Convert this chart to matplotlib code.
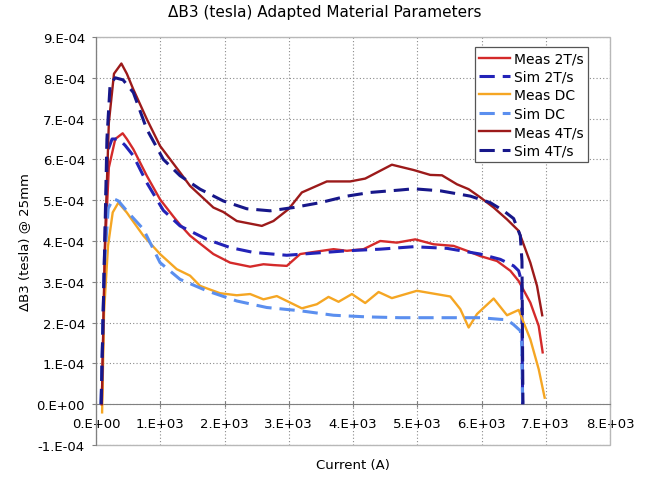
import numpy as np
import matplotlib
matplotlib.use("Agg")
import matplotlib.pyplot as plt
from matplotlib.ticker import FuncFormatter
from matplotlib.patches import Rectangle

# ---- data (x in A, y in 1e-4 tesla) ----
meas2_x = [90, 140, 200, 300, 415, 480, 581, 790, 997, 1204, 1308, 1464, 1827, 2087, 2399, 2606, 2762,
           2970, 3178, 3385, 3697, 3905, 4164, 4424, 4683, 4969, 5254, 5566, 5774, 5981, 6241, 6449,
           6578, 6760, 6890, 6952]
meas2_y = [0, 3.8, 5.8, 6.5, 6.64, 6.5, 6.25, 5.6, 5.02, 4.6, 4.4, 4.13, 3.68, 3.47, 3.37, 3.43, 3.41,
           3.39, 3.68, 3.73, 3.8, 3.76, 3.8, 4.0, 3.96, 4.04, 3.92, 3.88, 3.76, 3.63, 3.51, 3.27,
           3.02, 2.49, 1.92, 1.27]

sim2_x = [80, 130, 180, 250, 350, 450, 581, 790, 1048, 1308, 1724, 2087, 2450, 2970, 3385, 3905, 4424,
          4943, 5462, 5981, 6293, 6500, 6578, 6625, 6640]
sim2_y = [0, 3.5, 6.2, 6.5, 6.5, 6.35, 6.09, 5.43, 4.75, 4.37, 4.04, 3.84, 3.72, 3.65, 3.7, 3.76, 3.8,
          3.86, 3.82, 3.68, 3.55, 3.39, 3.27, 3.0, 0]

measdc_x = [95, 125, 187, 260, 348, 478, 737, 997, 1256, 1464, 1620, 1931, 2191, 2399, 2606, 2814, 2970,
            3204, 3437, 3619, 3775, 3983, 4190, 4398, 4605, 4995, 5514, 5670, 5800, 5930, 6189, 6397,
            6578, 6760, 6890, 6983]
measdc_y = [-0.2, 2.25, 3.88, 4.7, 4.94, 4.7, 4.13, 3.68, 3.31, 3.15, 2.9, 2.72, 2.67, 2.7, 2.57, 2.65, 2.53,
            2.35, 2.45, 2.63, 2.51, 2.7, 2.48, 2.75, 2.6, 2.78, 2.64, 2.33, 1.88, 2.21, 2.59, 2.18,
            2.31, 1.59, 0.86, 0.16]

simdc_x = [80, 130, 190, 270, 350, 500, 737, 997, 1308, 1724, 2191, 2658, 3178, 3697, 4216, 4735, 5981,
           6293, 6397, 6500, 6604, 6625, 6640]
simdc_y = [0, 3.4, 4.8, 5.04, 4.98, 4.7, 4.29, 3.47, 3.06, 2.78, 2.53, 2.37, 2.29, 2.18, 2.14, 2.12, 2.12,
           2.08, 2.07, 1.95, 1.8, 1.5, 0]

meas4_x = [90, 140, 200, 280, 395, 480, 580, 790, 997, 1308, 1464, 1827, 1983, 2191, 2581, 2762, 2996,
           3204, 3593, 3956, 4190, 4605, 4735, 4943, 5202, 5385, 5618, 5800, 5981, 6189, 6397, 6578,
           6760, 6864, 6945]
meas4_y = [0, 4.0, 6.9, 8.1, 8.35, 8.1, 7.72, 6.99, 6.33, 5.68, 5.35, 4.82, 4.71, 4.49, 4.37, 4.49, 4.78,
           5.19, 5.46, 5.46, 5.53, 5.87, 5.82, 5.74, 5.62, 5.61, 5.39, 5.27, 5.07, 4.82, 4.53, 4.25,
           3.47, 2.9, 2.18]

sim4_x = [80, 130, 170, 220, 300, 420, 581, 790, 1048, 1308, 1620, 1983, 2347, 2710, 3073, 3489, 3905,
          4268, 4735, 4943, 5358, 5826, 6137, 6344, 6500, 6604, 6630, 6645]
sim4_y = [0, 3.5, 6.5, 7.85, 8.0, 7.95, 7.64, 6.74, 6.0, 5.6, 5.27, 4.98, 4.79, 4.74, 4.82, 4.94, 5.1,
          5.19, 5.25, 5.28, 5.23, 5.1, 4.94, 4.74, 4.55, 4.13, 3.5, 0]

labels = ["Meas 2T/s", "Sim 2T/s", "Meas DC", "Sim DC", "Meas 4T/s", "Sim 4T/s"]
colors = ["#D42A2A", "#2323B8", "#F5A623", "#5B8FEF", "#9C1A1A", "#17178A"]

x_ticks = np.arange(0, 8001, 1000)
y_ticks = np.arange(-1e-4, 9.01e-4, 1e-4)


def sci_fmt(v, pos=None):
    if abs(v) < 1e-12:
        return "0.E+00"
    e = int(np.floor(np.log10(abs(v)) + 1e-9))
    m = int(round(v / 10 ** e))
    return f"{m}.E{e:+03d}"


fig = plt.figure(figsize=(6.49, 4.81), dpi=100)
ax = fig.add_axes([96 / 649, 1 - 446 / 481, (610 - 96) / 649, (446 - 38) / 481])

series = [(meas2_x, meas2_y), (sim2_x, sim2_y), (measdc_x, measdc_y),
          (simdc_x, simdc_y), (meas4_x, meas4_y), (sim4_x, sim4_y)]
for (xs, ys), lab, c in zip(series, labels, colors):
    yv = np.array(ys) * 1e-4
    if lab.startswith("Sim"):
        ax.plot(xs, yv, color=c, lw=2.2, ls=(0, (5, 2.6)), label=lab, zorder=3)
    else:
        ax.plot(xs, yv, color=c, lw=1.7, label=lab, zorder=3)

ax.set_xlim(0, 8000)
ax.set_ylim(-1e-4, 9e-4)
ax.set_xticks(x_ticks)
ax.set_yticks(y_ticks)
ax.xaxis.set_major_formatter(FuncFormatter(sci_fmt))
ax.yaxis.set_major_formatter(FuncFormatter(sci_fmt))

ax.grid(True, ls=(0, (1, 2)), color="#8a8a8a", lw=0.8)
ax.set_axisbelow(True)

for s in ["top", "right"]:
    ax.spines[s].set_visible(False)
ax.spines["bottom"].set_position(("data", 0))
ax.spines["bottom"].set_color("#808080")
ax.spines["left"].set_color("#808080")
ax.spines["bottom"].set_zorder(2)
ax.add_patch(Rectangle((0, 0), 1, 1, transform=ax.transAxes, fill=False,
                       edgecolor="#b8b8b8", lw=1.0, zorder=1, clip_on=False))

ax.tick_params(axis="x", direction="inout", length=4, color="#808080", labelsize=9.5, pad=7)
ax.tick_params(axis="y", direction="out", length=3, color="#808080", labelsize=9.5, pad=5)

fig.text(0.5, 1 - 13 / 481, "ΔB3 (tesla) Adapted Material Parameters", fontsize=11,
         ha="center", va="center")
ax.set_ylabel("ΔB3 (tesla) @ 25mm", fontsize=9.5)
ax.set_xlabel("Current (A)", fontsize=9.5)
ax.xaxis.set_label_coords(0.5, -0.032)

leg = ax.legend(loc="upper right", bbox_to_anchor=(0.957, 0.975), borderaxespad=0,
                fontsize=10, fancybox=False, framealpha=1, edgecolor="#555555",
                handlelength=2.2, handletextpad=0.3, labelspacing=0.32, borderpad=0.3)
leg.get_frame().set_linewidth(0.9)

fig.savefig("out.png", dpi=100)
